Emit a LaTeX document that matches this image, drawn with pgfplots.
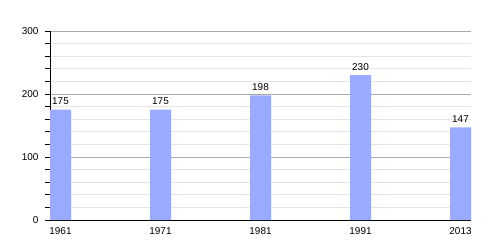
\documentclass[border=0pt]{standalone}
\usepackage{fontspec}
\setmainfont{Liberation Sans}
\usepackage{pgfplots}
\pgfplotsset{compat=1.18}
\definecolor{barblue}{HTML}{99AAFF}
\definecolor{majgrid}{HTML}{AAAAAA}
\definecolor{mingrid}{HTML}{E4E4E4}
\begin{document}
\begin{tikzpicture}
\useasboundingbox (0,0) rectangle (500bp,250bp);
\begin{axis}[
  at={(50bp,30bp)}, anchor=south west,
  scale only axis, width=421bp, height=189bp,
  xmin=0, xmax=4.21, ymin=0, ymax=300,
  axis x line=bottom, axis y line=left,
  axis line style={-, black, line width=0.8bp},
  ytick={0,100,200,300}, minor y tick num=4,
  ymajorgrids, yminorgrids,
  major grid style={majgrid, line width=0.6bp},
  minor grid style={mingrid, line width=0.6bp},
  tick align=outside,
  major tick length=5bp, minor tick length=5bp,
  y tick style={black, line width=0.6bp},
  xtick={0.105,1.105,2.105,3.105,4.105},
  xticklabels={1961,1971,1981,1991,2013},
  x tick style={draw=none},
  tick label style={font=\fontsize{10}{12}\selectfont},
  xticklabel style={yshift=1bp},
  /pgf/number format/assume math mode=true,
  yticklabel style={xshift=-3bp},
  nodes near coords,
  every node near coord/.append style={font=\fontsize{10}{12}\selectfont, inner sep=2bp, yshift=2.5bp},
  clip=false,
]
\addplot[ybar, bar width=21bp, fill=barblue, draw=none] coordinates {
  (0.105,175) (1.105,175) (2.105,198) (3.105,230) (4.105,147)
};
\end{axis}
\end{tikzpicture}
\end{document}
